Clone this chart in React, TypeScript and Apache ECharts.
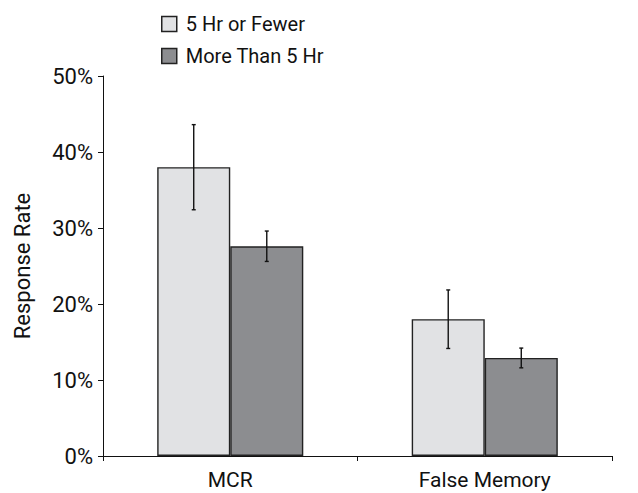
import React, { useEffect, useRef } from "react";
import * as echarts from "echarts";

const categories = ["MCR", "False Memory"];
const seriesNames = ["5 Hr or Fewer", "More Than 5 Hr"];
const fewerValues = [38.0, 18.0];
const moreValues = [27.6, 12.9];
const fewerErr = [5.6, 3.85];
const moreErr = [2.0, 1.3];
const yTicks = [0, 10, 20, 30, 40, 50];

const FONT = "'Liberation Sans Narrow', 'Arial Narrow', 'Roboto', 'Liberation Sans', sans-serif";
const BAR_FRAC = 0.287;

export default function App() {
  const ref = useRef<HTMLDivElement>(null);
  useEffect(() => {
    if (!ref.current) return;
    const chart = echarts.init(ref.current, undefined, { renderer: "svg" });
    const errData = (vals: number[], errs: number[]) =>
      vals.map((v, i) => [i, v - errs[i], v + errs[i]]);
    const makeErr = (side: number, vals: number[], errs: number[]) => ({
      type: "custom",
      name: "err" + side,
      z: 10,
      data: errData(vals, errs),
      renderItem: (params: any, api: any) => {
        const idx = api.value(0);
        const lo = api.coord([idx, api.value(1)]);
        const hi = api.coord([idx, api.value(2)]);
        const band = api.size([1, 0])[0];
        const x = lo[0] + side * band * BAR_FRAC / 2;
        const cap = 2;
        const st = { stroke: "#111", lineWidth: 1.4 };
        return {
          type: "group",
          children: [
            { type: "line", shape: { x1: x, y1: lo[1], x2: x, y2: hi[1] }, style: st },
            { type: "line", shape: { x1: x - cap, y1: lo[1], x2: x + cap, y2: lo[1] }, style: st },
            { type: "line", shape: { x1: x - cap, y1: hi[1], x2: x + cap, y2: hi[1] }, style: st },
          ],
        };
      },
    });
    chart.setOption({
      animation: false,
      textStyle: { fontFamily: FONT },
      grid: { left: 103, right: 26, top: 76, bottom: 37 },
      legend: {
        data: seriesNames,
        orient: "vertical",
        left: 156,
        top: 9,
        icon: "rect",
        itemWidth: 15,
        itemHeight: 15,
        itemGap: 12,
        itemStyle: { borderColor: "#222", borderWidth: 1.5 },
        textStyle: { fontFamily: FONT, fontSize: 20, lineHeight: 20, color: "#111", padding: [0, 0, 0, 4] },
      },
      xAxis: {
        type: "category",
        data: categories,
        axisLine: { lineStyle: { color: "#111", width: 1 } },
        axisTick: { show: true, length: 5, lineStyle: { color: "#111" } },
        axisLabel: { fontFamily: FONT, fontSize: 21, color: "#111", margin: 13 },
      },
      yAxis: {
        type: "value",
        min: 0,
        max: 50,
        interval: 10,
        name: "Response Rate",
        nameLocation: "middle",
        nameGap: 70,
        nameTextStyle: { fontFamily: FONT, fontSize: 22, color: "#111" },
        axisLine: { show: true, lineStyle: { color: "#111", width: 1 } },
        axisTick: { show: true, length: 5, lineStyle: { color: "#111" } },
        splitLine: { show: false },
        axisLabel: {
          fontFamily: FONT,
          fontSize: 22,
          color: "#111",
          margin: 10,
          formatter: (v: number) => (yTicks.includes(v) ? v + "%" : ""),
        },
      },
      series: [
        {
          type: "bar",
          name: seriesNames[0],
          data: fewerValues,
          barWidth: (BAR_FRAC * 100).toFixed(1) + "%",
          barGap: "0%",
          itemStyle: { color: "#e1e2e4", borderColor: "#222", borderWidth: 1.4 },
        },
        {
          type: "bar",
          name: seriesNames[1],
          data: moreValues,
          barWidth: (BAR_FRAC * 100).toFixed(1) + "%",
          barGap: "0%",
          itemStyle: { color: "#8c8d90", borderColor: "#222", borderWidth: 1.4 },
        },
        makeErr(-1, fewerValues, fewerErr),
        makeErr(1, moreValues, moreErr),
      ],
    });
    return () => chart.dispose();
  }, []);
  return <div ref={ref} style={{ width: 638, height: 493, position: "absolute", left: 0, top: 0 }} />;
}
